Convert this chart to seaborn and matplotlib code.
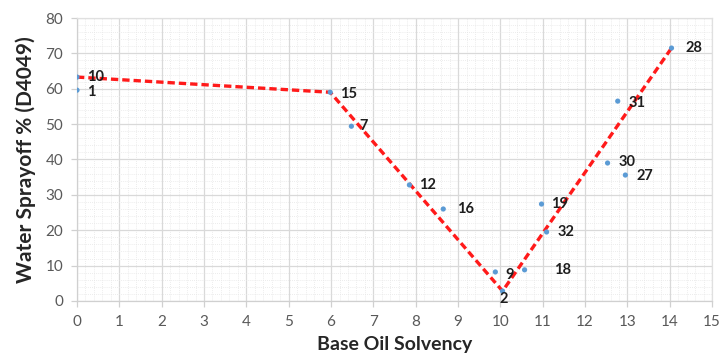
import matplotlib
matplotlib.use("Agg")
import matplotlib.pyplot as plt
from matplotlib.ticker import MultipleLocator
import seaborn as sns
import pandas as pd

# Sample measurements: base oil solvency vs. water sprayoff
sample_ids = ["10", "1", "15", "7", "12", "16", "9", "2", "18", "19", "32", "30", "27", "31", "28"]
solvency = [0.0, 0.0, 5.98, 6.48, 7.85, 8.65, 9.88, 10.05, 10.57, 10.97, 11.09, 12.53, 12.95, 12.77, 14.04]
sprayoff = [63.3, 59.6, 59.0, 49.4, 32.8, 26.0, 8.2, 2.8, 8.8, 27.4, 19.5, 39.0, 35.6, 56.5, 71.5]

# Piecewise trend through the break points
trend_x = [0.0, 5.98, 10.05, 14.04]
trend_y = [63.3, 59.0, 2.8, 71.5]

# Label offsets (points) for each sample id
label_dx = [7, 7, 7, 6, 7, 10, 7, -2, 21, 7, 8, 8, 8, 8, 10]
label_dy = [0, -1, -1, 0, 0, 0, -2, -6, 0, 0, 0, 1, -1, -1, 0]

sns.set_theme(style="white")
plt.rcParams["font.family"] = ["Lato", "DejaVu Sans"]

df = pd.DataFrame({"x": solvency, "y": sprayoff, "id": sample_ids})
trend = pd.DataFrame({"x": trend_x, "y": trend_y})

fig = plt.figure(figsize=(7.23, 3.60), dpi=100)
ax = fig.add_axes([0.1065, 0.164, 0.8785, 0.786])

sns.lineplot(data=trend, x="x", y="y", ax=ax, color="#ff1a1a", lw=2.4,
             linestyle=(0, (2.2, 1.2)), zorder=3, sort=False)
sns.scatterplot(data=df, x="x", y="y", ax=ax, color="#5b9bd5", s=14,
                edgecolor="none", zorder=4)

for xi, yi, lab, dx, dy in zip(solvency, sprayoff, sample_ids, label_dx, label_dy):
    ax.annotate(lab, (xi, yi), xytext=(dx, dy), textcoords="offset points",
                ha="left", va="center", fontsize=10.5, fontweight="bold",
                color="#1e1e1e", zorder=5)

ax.set_xlim(0, 15)
ax.set_ylim(0, 80)
ax.xaxis.set_major_locator(MultipleLocator(1))
ax.yaxis.set_major_locator(MultipleLocator(10))
ax.xaxis.set_minor_locator(MultipleLocator(0.2))
ax.yaxis.set_minor_locator(MultipleLocator(2))
ax.grid(which="major", color="#d9d9d9", lw=0.9)
ax.grid(which="minor", color="#e6e6e6", lw=0.6, linestyle=(0, (1, 1.5)))
ax.set_axisbelow(True)

for side in ["top", "right"]:
    ax.spines[side].set_color("#e0e0e0")
for side in ["left", "bottom"]:
    ax.spines[side].set_color("#d0d0d0")
for sp in ax.spines.values():
    sp.set_linewidth(0.9)

ax.tick_params(axis="both", which="major", labelsize=11, labelcolor="#595959",
               length=4, color="#d0d0d0", width=0.9, pad=6)
ax.tick_params(axis="both", which="minor", length=0)
ax.tick_params(axis="x", bottom=True)
ax.tick_params(axis="y", left=True)

ax.set_xlabel("Base Oil Solvency", fontsize=14, fontweight="bold",
              color="#262626", labelpad=5)
ax.set_ylabel("Water Sprayoff % (D4049)", fontsize=15, fontweight="bold",
              color="#262626", labelpad=7)

fig.savefig("out.png", dpi=100)
